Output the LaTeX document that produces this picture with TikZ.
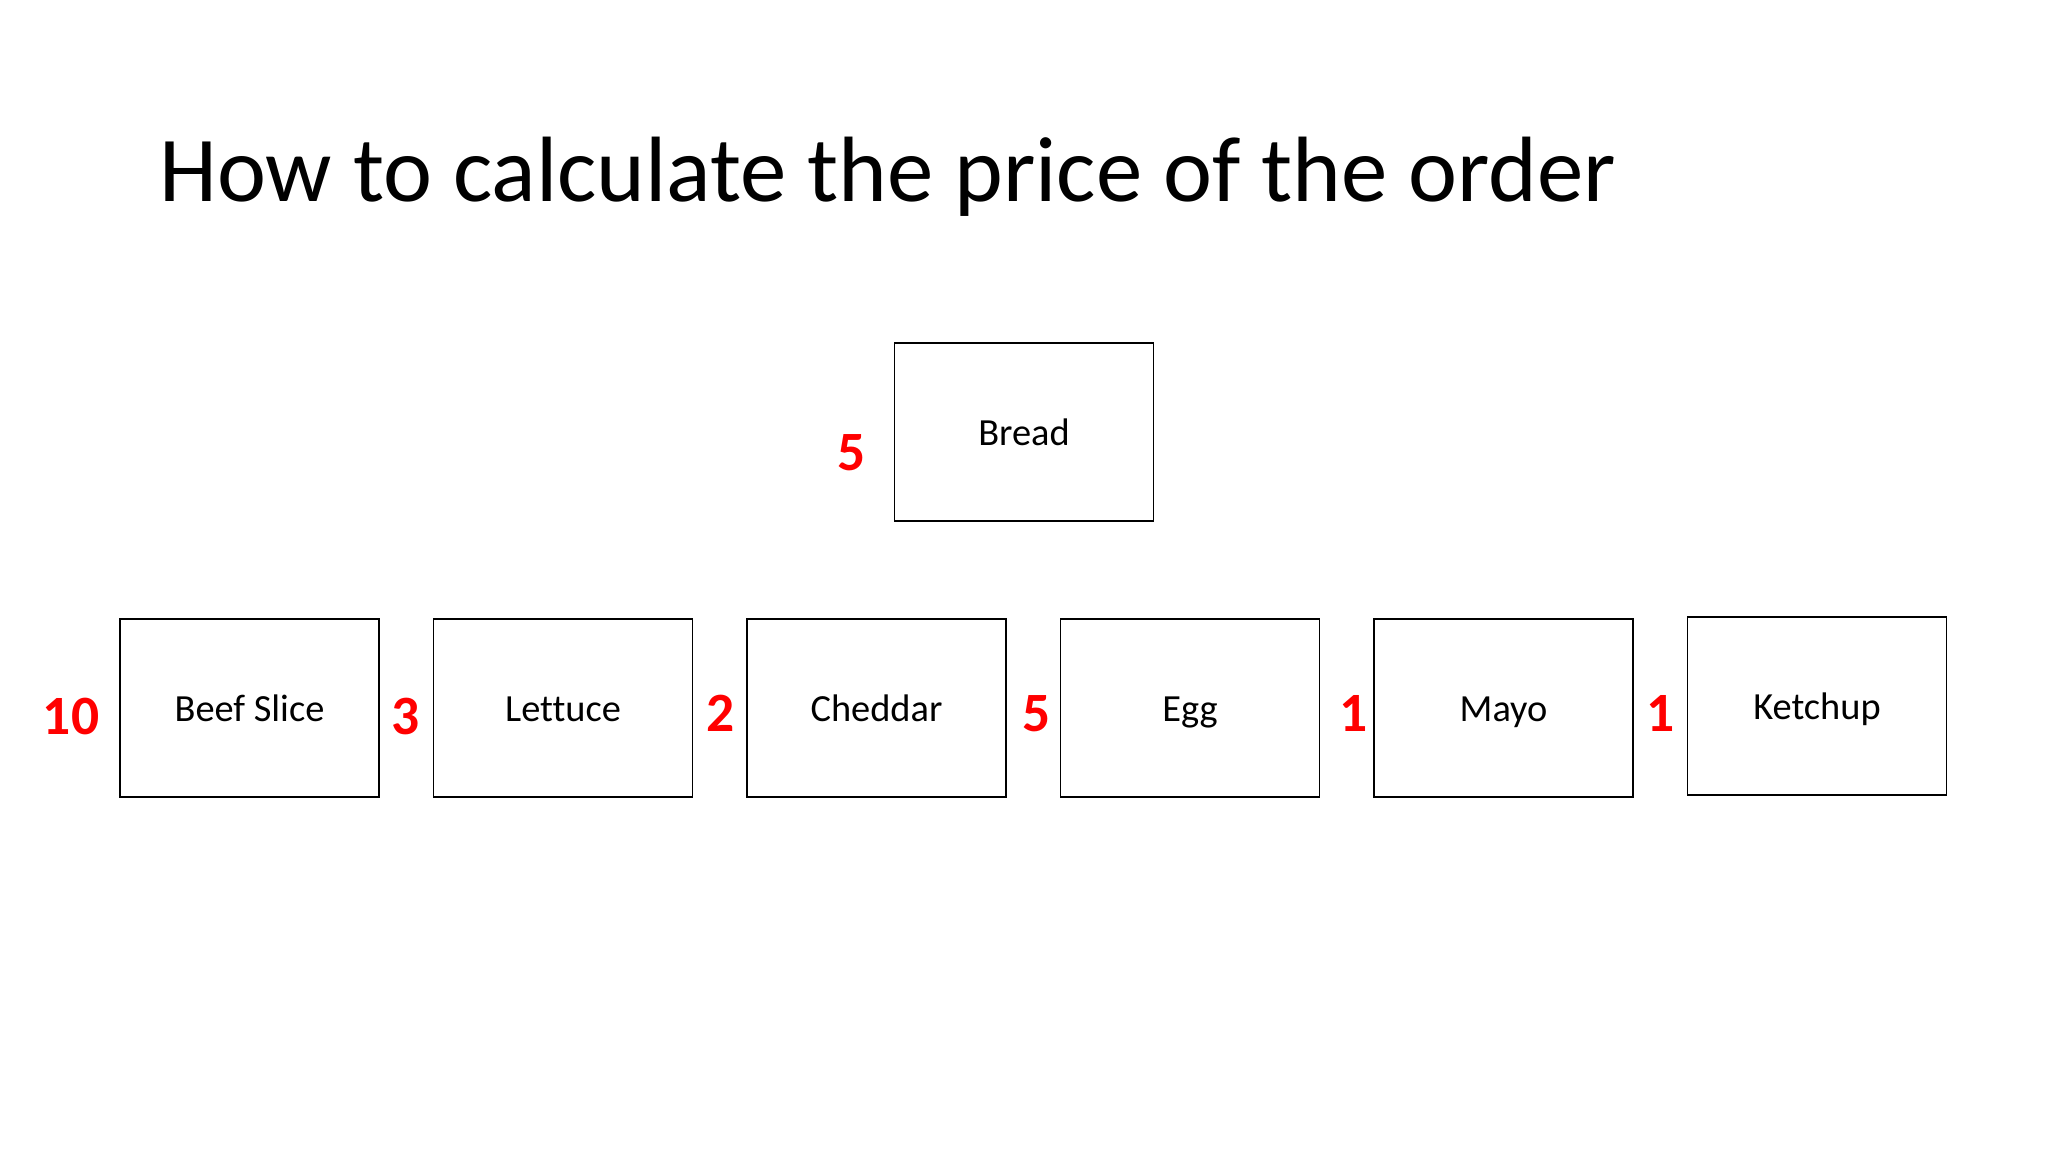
\documentclass[tikz,border=0pt]{standalone}
\usepackage{fontspec}
\setmainfont{Carlito}[Ligatures=NoCommon]
\begin{document}
\begin{tikzpicture}[x=0.46875pt,y=-0.46875pt]
\tikzset{
  item/.style={draw=black,line width=0.9pt,minimum width=121.4pt,minimum height=83.4pt,inner sep=0pt,text height=16.5pt,text depth=3.7pt,font=\fontsize{18}{21}\selectfont},
  price/.style={text=red,font=\bfseries\fontsize{26}{30}\selectfont,inner sep=0pt}
}
\useasboundingbox (0,0) rectangle (2048,1152);
\fill[white] (0,0) rectangle (2048,1152);
\node[anchor=base west,inner sep=0pt,font=\fontsize{43.5}{50}\selectfont] (title) at (159,202) {How to calculate the price of the order};

\node[item] (bread) at (1024,432) {Bread};
\node[item] (beef) at (249.5,708) {Beef Slice};
\node[item] (lettuce) at (563,708) {Lettuce};
\node[item] (cheddar) at (876.5,708) {Cheddar};
\node[item] (egg) at (1190,708) {Egg};
\node[item] (mayo) at (1503.5,708) {Mayo};
\node[item] (ketchup) at (1817,706) {Ketchup};

\node[price] (pbread) at (852,453) {5};
\node[price] (pbeef) at (71,716) {10};
\node[price] (plettuce) at (406,716) {3};
\node[price] (pcheddar) at (721,713) {2};
\node[price] (pegg) at (1037,714) {5};
\node[price] (pmayo) at (1354,713) {1};
\node[price] (pketchup) at (1661,713) {1};
\end{tikzpicture}
\end{document}
